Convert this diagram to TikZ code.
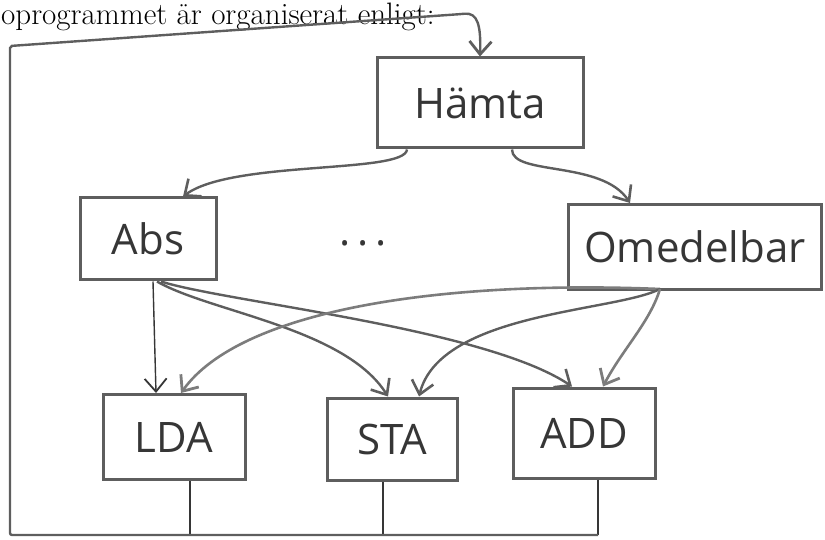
\documentclass[tikz,border=0pt]{standalone}
\usepackage{fontspec}
\newfontfamily\handfont{Open Sans}
\usetikzlibrary{arrows.meta}
\definecolor{pencil}{HTML}{5E5E5E}
\definecolor{pencildark}{HTML}{363636}
\definecolor{pencillight}{HTML}{7C7C7C}
\tikzset{
  box/.style={draw=pencil, line width=3pt, inner sep=0pt, text=pencildark,
    font=\handfont\fontsize{42}{42}\selectfont},
  barb/.style={-{Straight Barb[length=13pt,width=22pt,line width=#1]}},
  flow/.style={draw=pencil, line width=2.4pt, barb=2.6pt},
  softflow/.style={draw=pencillight, line width=2.6pt, barb=2.8pt},
  thinflow/.style={draw=pencildark, line width=1.4pt, barb=1.8pt},
  outline/.style={draw=pencildark, line width=1.4pt},
  loopline/.style={draw=pencil, line width=2.4pt, barb=2.8pt}
}
\begin{document}
\begin{tikzpicture}[x=1pt,y=-1pt]
\useasboundingbox (0,0) rectangle (825,540);

% heading line of the page
\node[anchor=base west, inner sep=0pt, font=\fontsize{31}{33}\selectfont]
  (caption) at (1,25) {oprogrammet är organiserat enligt:};

% boxes
\node[box, minimum width=206pt, minimum height=90pt] (fetch) at (480,103) {Hämta};
\node[box, minimum width=136pt, minimum height=82pt] (abs)   at (148,239) {Abs};
\node[box, minimum width=253pt, minimum height=85pt] (imm)   at (695,247) {Omedelbar};
\node[anchor=base, inner sep=0pt, text=pencildark,
  font=\handfont\fontsize{42}{42}\selectfont] (more) at (363,246) {.\,.\,.};
\node[box, minimum width=142pt, minimum height=85pt] (lda) at (174,437) {LDA};
\node[box, minimum width=130pt, minimum height=82pt] (sta) at (392,439) {STA};
\node[box, minimum width=142pt, minimum height=90pt] (add) at (584,433) {ADD};

% fetch to addressing modes
\draw[flow] ([xshift=-73pt]fetch.south) .. controls (405,174) and (232,160) .. (abs.north -| 183,0);
\draw[flow] ([xshift=32pt]fetch.south) .. controls (512,176) and (602,160) .. (imm.north -| 630,0);

% addressing modes to instructions
\draw[thinflow] (abs.south -| 153,0) -- (lda.north -| 156,0);
\draw[flow] (abs.south -| 157,0) .. controls (210,312) and (345,328) .. (sta.north -| 388,0);
\draw[flow] (abs.south -| 161,0) .. controls (225,302) and (485,328) .. (add.north -| 572,0);

\coordinate (split) at (660,289);
\draw[softflow] (split) .. controls (440,280) and (240,310) .. (lda.north -| 181,0);
\draw[flow] (split) .. controls (615,312) and (440,312) .. (sta.north -| 419,0);
\draw[softflow] (split) .. controls (650,322) and (622,350) .. (add.north -| 603,0);

% outputs collected and fed back to fetch
\coordinate (ldaout) at (190,535);
\coordinate (staout) at (383,535);
\coordinate (addout) at (598,535);
\coordinate (busleft) at (10,535);
\coordinate (loopcorner) at (10,46);
\coordinate (looptop) at (462,14);
\draw[outline] (ldaout |- lda.south) -- (ldaout);
\draw[outline] (staout |- sta.south) -- (staout);
\draw[outline] (addout |- add.south) -- (addout);
\draw[loopline, rounded corners=2pt] (addout) -- (busleft) -- (loopcorner) -- (looptop)
  .. controls (478,12) and (481,26) .. (fetch.north);
\end{tikzpicture}
\end{document}
